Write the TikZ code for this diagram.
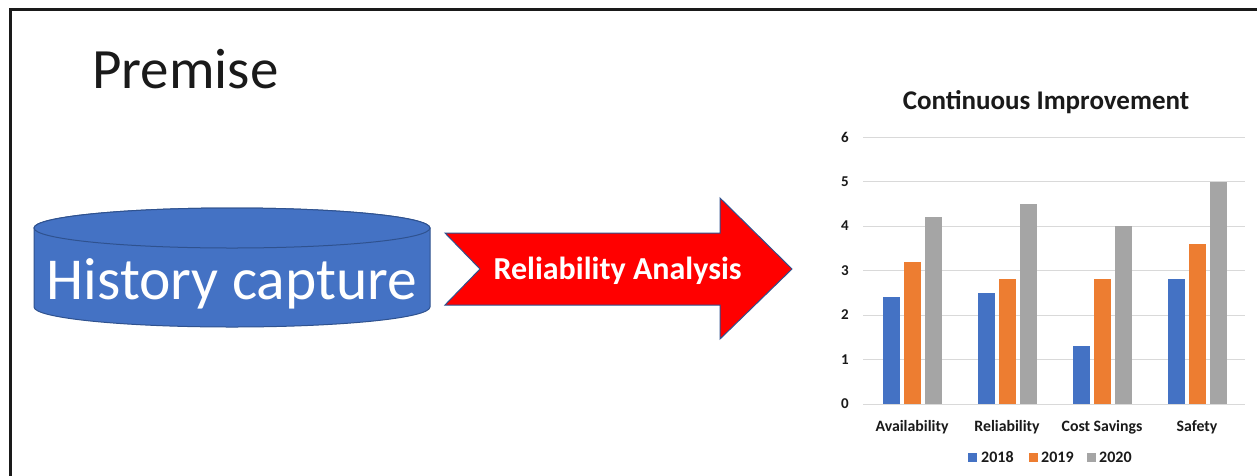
\documentclass[tikz,border=0pt]{standalone}
\usepackage{fontspec}
\setmainfont{Carlito}
\definecolor{b18}{HTML}{4472C4}
\definecolor{o19}{HTML}{ED7D31}
\definecolor{g20}{HTML}{A5A5A5}
\definecolor{gridc}{HTML}{D9D9D9}
\definecolor{edgeblue}{HTML}{2F528F}
\definecolor{txt}{HTML}{1A1A1A}
\tikzset{
  cylfill/.style={fill=b18, draw=edgeblue, line width=1pt},
  redarrow/.style={fill=red, draw=edgeblue, line width=1pt, line join=miter},
  gridline/.style={draw=gridc, line width=1pt},
  axlab/.style={font=\fontsize{15}{17}\selectfont\bfseries, text=txt, inner sep=0pt},
  catlab/.style={font=\fontsize{15.8}{18}\selectfont\bfseries, text=txt, inner sep=0pt},
  leglab/.style={font=\fontsize{16}{18}\selectfont\bfseries, text=txt, inner sep=0pt, anchor=west},
}
\begin{document}
\begin{tikzpicture}[x=1pt,y=1pt]
\useasboundingbox (0,0) rectangle (1257,-475);
\fill[white] (0,0) rectangle (1257,-475);
% frame
\draw[line width=3pt, txt] (10,-476) -- (10,-9) -- (1258,-9);
% title
\node[anchor=base west, inner sep=0pt, text=txt, font=\fontsize{57}{64}\selectfont] (title) at (92,-88) {Premise};
% cylinder
\path[cylfill] (34,-228) -- (34,-307) arc[start angle=180,end angle=360,x radius=198,y radius=20] -- (430,-228) arc[start angle=0,end angle=180,x radius=198,y radius=20] -- cycle;
\draw[cylfill] (232,-228) ellipse[x radius=198,y radius=20];
\node[text=white, font=\fontsize{59.5}{64}\selectfont, inner sep=0pt] (hist) at (232,-284) {History capture};
% arrow
\path[redarrow] (445,-233) -- (720,-233) -- (720,-198) -- (792,-269) -- (720,-339) -- (720,-305) -- (445,-305) -- (480,-269) -- cycle;
\node[text=white, font=\fontsize{32}{36}\selectfont\bfseries, inner sep=0pt] (ra) at (617.5,-271) {Reliability Analysis};
% chart title
\node[text=txt, font=\fontsize{27}{30}\selectfont\bfseries, inner sep=0pt] (ctitle) at (1046,-102) {Continuous Improvement};
% grid and axis labels
\foreach \v in {0,...,6} {
  \draw[gridline] (863,{-404+44.5*\v}) -- (1245,{-404+44.5*\v});
  \node[axlab] (ax\v) at (845,{-404+44.5*\v}) {\v};
}
% bars
\foreach \cx/\a/\b/\c/\lab [count=\i] in {912/2.4/3.2/4.2/Availability, 1007/2.5/2.8/4.5/Reliability, 1102/1.3/2.8/4.0/Cost Savings, 1197/2.8/3.6/5.0/Safety} {
  \fill[b18] (\cx-29.5,-404) rectangle (\cx-12.5,{-404+44.5*\a});
  \fill[o19] (\cx-8.5,-404) rectangle (\cx+8.5,{-404+44.5*\b});
  \fill[g20] (\cx+12.5,-404) rectangle (\cx+29.5,{-404+44.5*\c});
  \node[catlab] (cat\i) at (\cx,-427) {\lab};
}
% legend
\fill[b18] (968,-453) rectangle (977,-462);
\node[leglab] (l18) at (981,-457.5) {2018};
\fill[o19] (1029,-453) rectangle (1038,-462);
\node[leglab] (l19) at (1041,-457.5) {2019};
\fill[g20] (1087,-453) rectangle (1096,-462);
\node[leglab] (l20) at (1099,-457.5) {2020};
\end{tikzpicture}
\end{document}
